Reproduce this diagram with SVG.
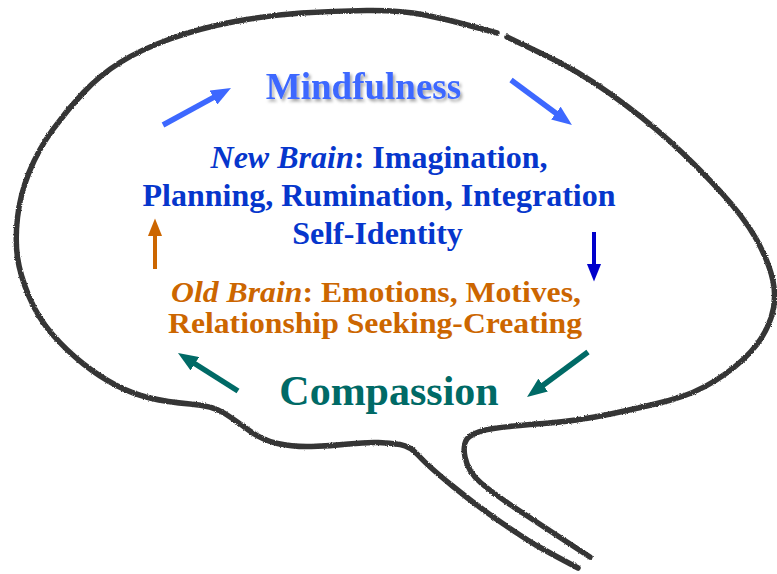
<svg xmlns="http://www.w3.org/2000/svg" width="777" height="574" viewBox="0 0 777 574">
  <style>
    .t { font-family: "Liberation Serif", "Times New Roman", serif; font-weight: bold; }
    .it { font-style: italic; }
    .outline { fill: none; stroke: #363636; stroke-width: 5.5; stroke-linecap: round; stroke-linejoin: round; }
    .shaft { fill: none; stroke-linecap: butt; }
    .sky { stroke: #3d68ff; stroke-width: 5.5; }
    .navy { stroke: #0000cc; stroke-width: 4; }
    .amber { stroke: #cc6600; stroke-width: 4; }
    .teal { stroke: #006a66; stroke-width: 5.5; }
  </style>
  <defs>
    <filter id="pencil" x="-5%" y="-5%" width="110%" height="110%">
      <feTurbulence type="fractalNoise" baseFrequency="0.9" numOctaves="2" seed="3" result="n"/>
      <feDisplacementMap in="SourceGraphic" in2="n" scale="2.5" xChannelSelector="R" yChannelSelector="G"/>
    </filter>
    <filter id="soft-shadow" x="-10%" y="-20%" width="120%" height="150%">
      <feDropShadow dx="2" dy="2.5" stdDeviation="1.5" flood-color="#000" flood-opacity="0.35"/>
    </filter>
    <marker id="head-sky" viewBox="0 0 20 16" refX="6" refY="8" markerWidth="20" markerHeight="16" markerUnits="userSpaceOnUse" orient="auto">
      <path d="M0,0 L20,8 L0,16 z" fill="#3d68ff"/>
    </marker>
    <marker id="head-navy" viewBox="0 0 20 16" refX="6" refY="8" markerWidth="18" markerHeight="16" markerUnits="userSpaceOnUse" orient="auto">
      <path d="M0,0 L20,8 L0,16 z" fill="#0000cc"/>
    </marker>
    <marker id="head-amber" viewBox="0 0 20 16" refX="6" refY="8" markerWidth="18" markerHeight="16" markerUnits="userSpaceOnUse" orient="auto">
      <path d="M0,0 L20,8 L0,16 z" fill="#cc6600"/>
    </marker>
    <marker id="head-teal" viewBox="0 0 20 16" refX="6" refY="8" markerWidth="20" markerHeight="16" markerUnits="userSpaceOnUse" orient="auto">
      <path d="M0,0 L20,8 L0,16 z" fill="#006a66"/>
    </marker>
  </defs>

  <rect width="777" height="574" fill="#ffffff"/>

  <!-- hand-drawn head / speech-bubble outline -->
  <g id="outline" filter="url(#pencil)">
    <path class="outline" d="M578,568 L563,560 Q548,552 537.5,546 Q527,540 502,523 Q477,506 452.5,486 Q428,466 419,456 Q410,446 400,444.5 Q390,443 378.5,442.5 Q367,442 348.5,444 Q330,446 311.5,446.5 Q293,447 277.5,443.5 Q262,440 248.5,430 Q235,420 224,413 Q213,406 190,404 Q167,402 150,398 Q133,394 116.5,385.5 Q100,377 83.5,364 Q67,351 52.5,334.5 Q38,318 29,296.5 Q20,275 17.5,257.5 Q15,240 17.5,217.5 Q20,195 29,172.5 Q38,150 52.5,130 Q67,110 83.5,92.5 Q100,75 120,62.5 Q140,50 170,39 Q200,28 235,21.5 Q270,15 301.5,13 Q333,11 366.5,10.5 Q400,10 425,15 Q450,20 473,26.5 L497,33"/>
    <path class="outline" d="M507,37 L542.5,54 Q577,70 610.5,94 Q644,118 669,140.5 Q694,163 719,190 Q744,217 756.5,239.5 Q769,262 773,281 Q777,300 771,318 Q765,336 751,351.5 Q737,367 715.5,380.5 Q694,394 669,400.5 Q644,407 610.5,414 Q577,421 543.5,423.5 Q510,426 493.5,428.5 Q477,431 469.5,436.5 Q462,442 465,457 Q468,472 481,483 Q494,494 519,510.5 Q544,527 567,542 L590,557"/>
  </g>

  <!-- cycle arrows -->
  <g id="connectors">
    <line class="shaft sky" x1="163" y1="125" x2="218.7" y2="94.7" marker-end="url(#head-sky)"/>
    <line class="shaft sky" x1="511" y1="80" x2="560.7" y2="116.7" marker-end="url(#head-sky)"/>
    <line class="shaft navy" x1="594" y1="232" x2="594" y2="269" marker-end="url(#head-navy)"/>
    <line class="shaft teal" x1="588" y1="352" x2="538.3" y2="388.7" marker-end="url(#head-teal)"/>
    <line class="shaft teal" x1="238" y1="391" x2="189.8" y2="360.5" marker-end="url(#head-teal)"/>
    <line class="shaft amber" x1="155" y1="269" x2="155" y2="231" marker-end="url(#head-amber)"/>
  </g>

  <g id="node-mindfulness">
    <text class="t" x="363.5" y="99" font-size="37" fill="#3d68ff" text-anchor="middle" filter="url(#soft-shadow)">Mindfulness</text>
  </g>

  <g id="node-new-brain" fill="#0636cc">
    <text class="t" x="379" y="168" font-size="32" text-anchor="middle"><tspan class="it">New Brain</tspan>: Imagination,</text>
    <text class="t" x="379" y="206" font-size="32" text-anchor="middle">Planning, Rumination, Integration</text>
    <text class="t" x="377.5" y="244" font-size="32" text-anchor="middle">Self-Identity</text>
  </g>

  <g id="node-old-brain" fill="#cc6600">
    <text class="t" x="376" y="302" font-size="30" text-anchor="middle" textLength="410" lengthAdjust="spacingAndGlyphs"><tspan class="it">Old Brain</tspan>: Emotions, Motives,</text>
    <text class="t" x="375" y="333" font-size="30" text-anchor="middle" textLength="414" lengthAdjust="spacingAndGlyphs">Relationship Seeking-Creating</text>
  </g>

  <g id="node-compassion">
    <text class="t" x="389" y="405" font-size="42" fill="#006a66" text-anchor="middle">Compassion</text>
  </g>
</svg>
